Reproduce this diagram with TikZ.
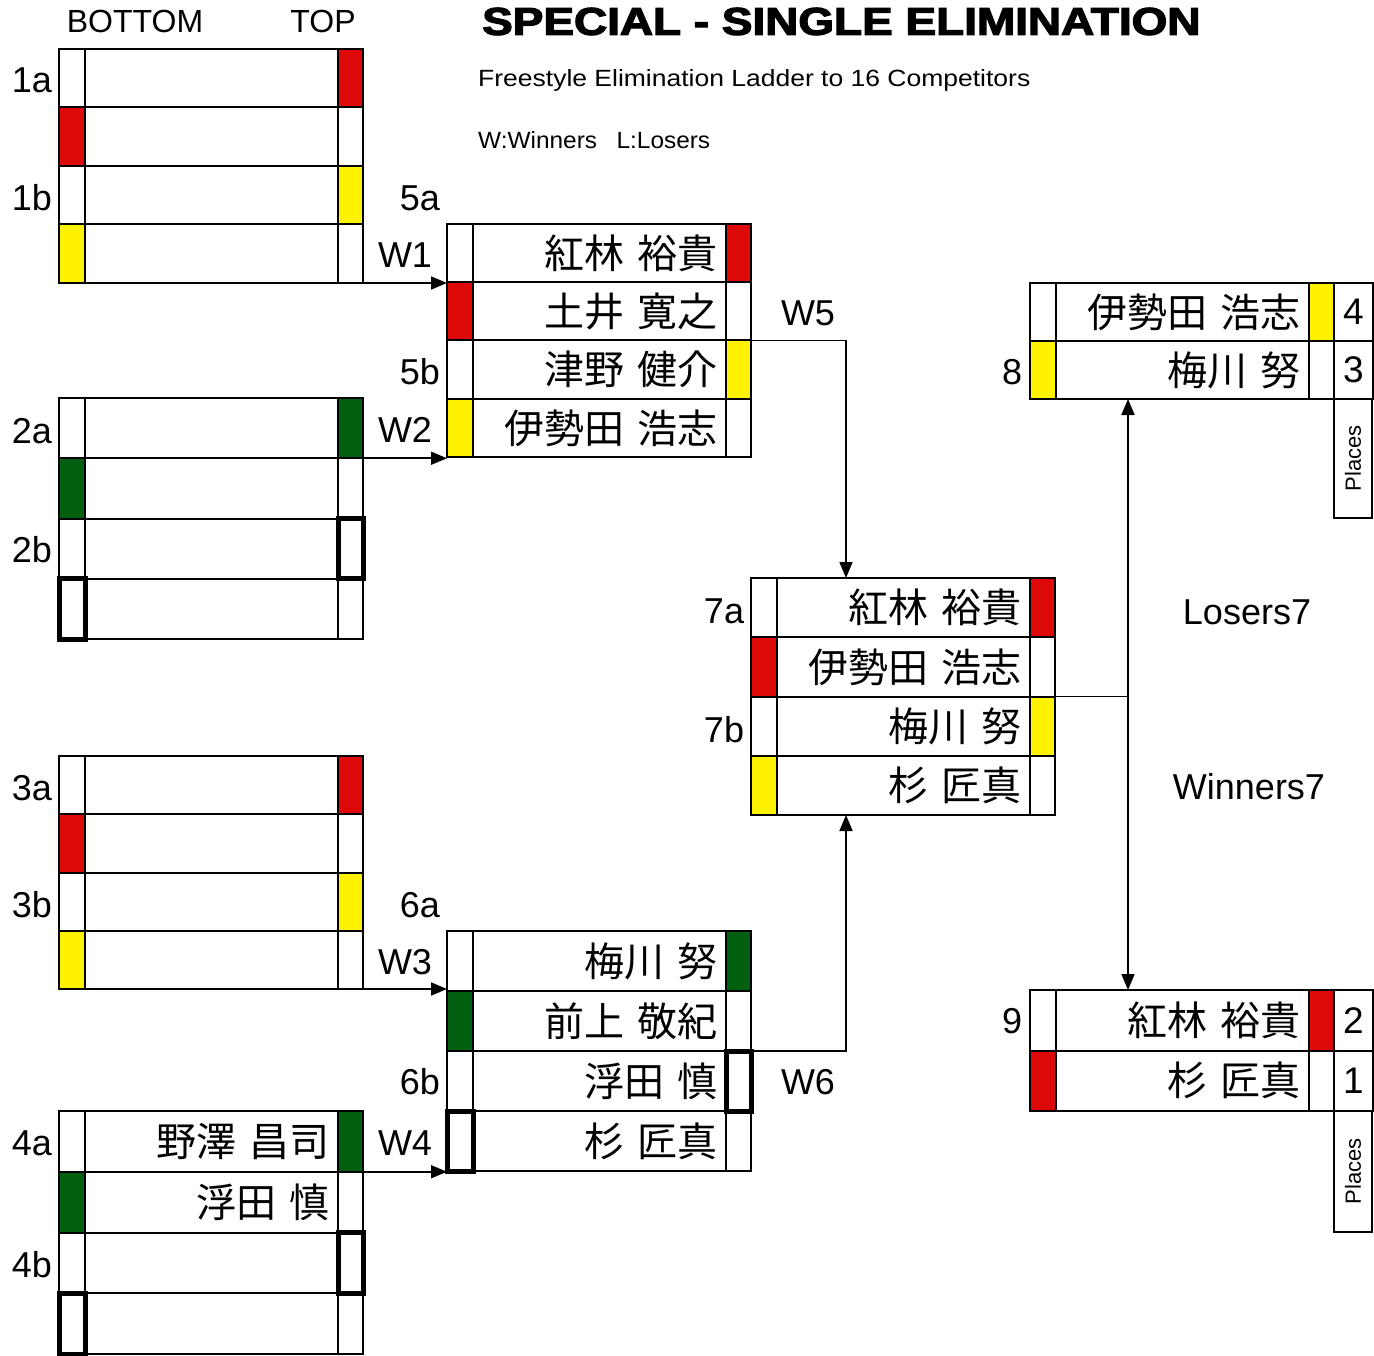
\documentclass[tikz,border=0pt]{standalone}
\usepackage{fontspec}
\usepackage{graphicx}
\setmainfont{Noto Sans CJK JP}
\newfontfamily\lab{Liberation Sans}
\newfontfamily\titlefont[FakeBold=3]{Liberation Sans Bold}
\usetikzlibrary{arrows.meta}
\definecolor{cred}{RGB}{221,8,8}
\definecolor{cyel}{RGB}{255,242,0}
\definecolor{cgrn}{RGB}{0,96,16}
\tikzset{
  cell/.style={draw, line width=2pt, anchor=north west, inner sep=0pt, outer sep=0pt},
  namecell/.style={cell, minimum width=253pt, text width=236pt, align=right,
    font=\fontsize{40}{42}\selectfont},
  plcell/.style={cell, minimum width=39pt, font=\lab\fontsize{37}{38}\selectfont},
  lbl/.style={font=\lab\fontsize{36}{38}\selectfont, inner sep=0pt},
  hdr/.style={font=\lab\fontsize{32}{34}\selectfont, inner sep=0pt},
  thickbox/.style={draw, line width=5pt},
  arr/.style={line width=1.7pt, -{Triangle[length=16pt,width=13pt]}},
  arrboth/.style={line width=1.7pt, {Triangle[length=16pt,width=13pt]}-{Triangle[length=16pt,width=13pt]}},
  conn/.style={line width=1.7pt}
}
% #1 id, #2 x, #3 y, #4 h, #5 left fill, #6 right fill, #7 name
\newcommand\prow[7]{%
  \node[cell, fill=#5, minimum width=26pt, minimum height=#4pt] (#1L) at (#2,#3) {};
  \node[namecell, minimum height=#4pt] (#1M) at (#2+26,#3) {#7};
  \node[cell, fill=#6, minimum width=25pt, minimum height=#4pt] (#1R) at (#2+279,#3) {};
}
\begin{document}
\begin{tikzpicture}[x=1pt,y=-1pt]
\useasboundingbox (0,0) rectangle (1374,1356);

% header
\node[hdr] (hb) at (135,21) {BOTTOM};
\node[hdr] (ht) at (323,21) {TOP};
\node[anchor=west, inner sep=0pt] (title) at (482,21.5) {\resizebox{718pt}{27pt}{\titlefont SPECIAL - SINGLE ELIMINATION}};
\node[anchor=west, inner sep=0pt] (sub) at (478,80) {\resizebox{552pt}{17pt}{\lab Freestyle Elimination Ladder to 16 Competitors}};
\node[anchor=west, inner sep=0pt] (key) at (478,140) {\resizebox{232pt}{17pt}{\lab W:Winners\hspace{0.8em}L:Losers}};

% pool 1
\prow{pa}{59}{49}{58.5}{white}{cred}{}
\prow{pb}{59}{107.5}{58.5}{cred}{white}{}
\prow{pc}{59}{166}{58.5}{white}{cyel}{}
\prow{pd}{59}{224.5}{58.5}{cyel}{white}{}
% pool 2
\prow{qa}{59}{398}{60.25}{white}{cgrn}{}
\prow{qb}{59}{458.25}{60.25}{cgrn}{white}{}
\prow{qc}{59}{518.5}{60.25}{white}{white}{}
\prow{qd}{59}{578.75}{60.25}{white}{white}{}
% pool 3
\prow{ra}{59}{756}{58.25}{white}{cred}{}
\prow{rb}{59}{814.25}{58.25}{cred}{white}{}
\prow{rc}{59}{872.5}{58.25}{white}{cyel}{}
\prow{rd}{59}{930.75}{58.25}{cyel}{white}{}
% pool 4
\prow{sa}{59}{1111}{60.75}{white}{cgrn}{野澤 昌司}
\prow{sb}{59}{1171.75}{60.75}{cgrn}{white}{浮田 慎}
\prow{sc}{59}{1232.5}{60.75}{white}{white}{}
\prow{sd}{59}{1293.25}{60.75}{white}{white}{}
% pool 5
\prow{ta}{447}{224}{58.25}{white}{cred}{紅林 裕貴}
\prow{tb}{447}{282.25}{58.25}{cred}{white}{土井 寛之}
\prow{tc}{447}{340.5}{58.25}{white}{cyel}{津野 健介}
\prow{td}{447}{398.75}{58.25}{cyel}{white}{伊勢田 浩志}
% pool 6
\prow{ua}{447}{931}{60}{white}{cgrn}{梅川 努}
\prow{ub}{447}{991}{60}{cgrn}{white}{前上 敬紀}
\prow{uc}{447}{1051}{60}{white}{white}{浮田 慎}
\prow{ud}{447}{1111}{60}{white}{white}{杉 匠真}
% pool 7
\prow{va}{751}{578}{59.25}{white}{cred}{紅林 裕貴}
\prow{vb}{751}{637.25}{59.25}{cred}{white}{伊勢田 浩志}
\prow{vc}{751}{696.5}{59.25}{white}{cyel}{梅川 努}
\prow{vd}{751}{755.75}{59.25}{cyel}{white}{杉 匠真}
% pool 8
\prow{wa}{1030}{283}{58}{white}{cyel}{伊勢田 浩志}
\prow{wb}{1030}{341}{58}{cyel}{white}{梅川 努}
\node[plcell, minimum height=58pt] (wpa) at (1334,283) {4};
\node[plcell, minimum height=58pt] (wpb) at (1334,341) {3};
\node[cell, minimum width=38pt, minimum height=119pt] (wpc) at (1334,399) {};
\node[rotate=90, font=\lab\fontsize{22}{24}\selectfont, inner sep=0pt] (wpt) at (wpc.center) {Places};
% pool 9
\prow{xa}{1030}{990}{60.5}{white}{cred}{紅林 裕貴}
\prow{xb}{1030}{1050.5}{60.5}{cred}{white}{杉 匠真}
\node[plcell, minimum height=60.5pt] (xpa) at (1334,990) {2};
\node[plcell, minimum height=60.5pt] (xpb) at (1334,1050.5) {1};
\node[cell, minimum width=38pt, minimum height=121pt] (xpc) at (1334,1111) {};
\node[rotate=90, font=\lab\fontsize{22}{24}\selectfont, inner sep=0pt] (xpt) at (xpc.center) {Places};

% thick empty markers
\draw[thickbox] (qcR.north west) rectangle (qcR.south east);
\draw[thickbox] (qdL.north west) rectangle (qdL.south east);
\draw[thickbox] (scR.north west) rectangle (scR.south east);
\draw[thickbox] (sdL.north west) rectangle (sdL.south east);
\draw[thickbox] (ucR.north west) rectangle (ucR.south east);
\draw[thickbox] (udL.north west) rectangle (udL.south east);

% labels
\node[lbl] (l1a) at (32,80) {1a};
\node[lbl] (l1b) at (32,198) {1b};
\node[lbl] (l2a) at (32,431) {2a};
\node[lbl] (l2b) at (32,550) {2b};
\node[lbl] (l3a) at (32,788) {3a};
\node[lbl] (l3b) at (32,905) {3b};
\node[lbl] (l4a) at (32,1143) {4a};
\node[lbl] (l4b) at (32,1265) {4b};
\node[lbl] (l5a) at (420,198) {5a};
\node[lbl] (lw1) at (405,255) {W1};
\node[lbl] (l5b) at (420,372) {5b};
\node[lbl] (lw2) at (405,430) {W2};
\node[lbl] (l6a) at (420,905) {6a};
\node[lbl] (lw3) at (405,962) {W3};
\node[lbl] (l6b) at (420,1082) {6b};
\node[lbl] (lw4) at (405,1143) {W4};
\node[lbl] (l7a) at (724,611) {7a};
\node[lbl] (l7b) at (724,730) {7b};
\node[lbl] (lw5) at (808,313) {W5};
\node[lbl] (lw6) at (808,1082) {W6};
\node[lbl] (l8) at (1012,372) {8};
\node[lbl] (l9) at (1012,1021) {9};
\node[lbl] (los) at (1247,612) {Losers7};
\node[lbl] (win) at (1249,787) {Winners7};

% connectors
\draw[arr] (pdR.south east) -- (pdR.south east -| taL.west);
\draw[arr] (qaR.south east) -- (qaR.south east -| tdL.west);
\draw[arr] (rdR.south east) -- (rdR.south east -| uaL.west);
\draw[arr] (saR.south east) -- (saR.south east -| udL.west);
\draw[arr] (tbR.south east) -| ([xshift=69pt]vaM.north west);
\draw[arr] (ubR.south east) -| ([xshift=69pt]vdM.south west);
\draw[conn] (vbR.south east) -- ([xshift=72pt]vbR.south east -| wbM.west);
\draw[arrboth] ([xshift=72pt]wbM.south west) -- ([xshift=72pt]xaM.north west);
\end{tikzpicture}
\end{document}
